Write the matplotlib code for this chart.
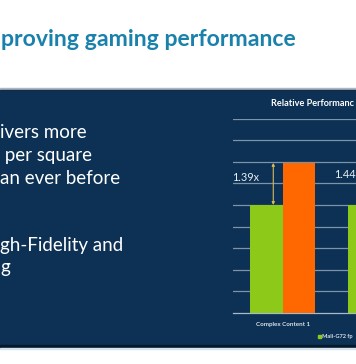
import matplotlib
matplotlib.use("Agg")
import matplotlib.pyplot as plt
from matplotlib.patches import Rectangle

# chart data
categories = ["Complex Content 1", "Complex Content 2"]
g71_rel = [1.0, 1.0]
g72_rel = [1.39, 1.44]
gain_labels = ["1.39x", "1.44"]
yticks = [0.2, 0.4, 0.6, 0.8, 1.0, 1.2, 1.4, 1.6, 1.8]

# visible slide text
title = "proving gaming performance"
body_lines = ["ivers more", " per square", "an ever before", "", "", "gh-Fidelity and", "g"]

navy = '#0c3154'
green = '#8cc919'
orange = '#ff6700'
grid_c = '#7d92ab'

plt.rcParams['font.family'] = ['Lato', 'DejaVu Sans']

fig = plt.figure(figsize=(3.56, 3.64), dpi=100)

# slide background, pixel coordinates
bg = fig.add_axes([0, 0, 1, 1])
bg.set_xlim(0, 356)
bg.set_ylim(364, 0)
bg.axis('off')
bg.add_patch(Rectangle((0, 87.5), 356, 2, color='#a9b6c3'))
bg.add_patch(Rectangle((0, 89.5), 356, 1.5, color='#16293c'))
bg.add_patch(Rectangle((0, 91), 356, 254, color=navy))
bg.add_patch(Rectangle((0, 345), 356, 2.5, color='#06192b'))
bg.add_patch(Rectangle((0, 347.5), 356, 1.5, color='#d6e4f0'))

bg.text(1, 40, title, ha='left', va='center', fontsize=16.6, fontweight='bold',
        color='#1a80ac')

y = 133
for line in body_lines:
    bg.text(0, y, line, ha='left', va='center', fontsize=13.5, color='white')
    y += 22.5

bg.text(271, 103, "Relative Performanc", ha='left', va='center', fontsize=6.6,
        fontweight='bold', color='white')

# legend (cut off by slide edge)
bg.add_patch(Rectangle((317.5, 334.5), 3.5, 3.5, color=green))
bg.text(322, 336.5, "Mali-G72 fp", ha='left', va='center', fontsize=4.1,
        fontweight='bold', color='#d8e0e8')

# bar chart
ax = fig.add_axes([233 / 356, (364 - 313) / 364, (430 - 233) / 356, 194.4 / 364])
ax.set_facecolor('none')
x = list(range(len(categories)))
w = 0.335
ax.bar([i - w / 2 for i in x], g71_rel, width=w, color=green, zorder=3)
ax.bar([i + w / 2 for i in x], g72_rel, width=w, color=orange, zorder=3)
ax.set_xlim(-0.515, 1.515)
ax.set_ylim(0, 1.8)
ax.set_yticks(yticks)
ax.yaxis.grid(True, color=grid_c, linewidth=0.9, zorder=0)
ax.tick_params(left=False, bottom=False, labelleft=False)
for s in ['top', 'right', 'left']:
    ax.spines[s].set_visible(False)
ax.spines['bottom'].set_color('#aab8c8')
ax.spines['bottom'].set_linewidth(0.9)
ax.set_xticks([0])
ax.set_xticklabels([categories[0]], fontsize=4.5, fontweight='bold', color='#d8e0e8')
ax.tick_params(axis='x', pad=3)

for i in x:
    ax.annotate('', xy=(i - 0.1, g72_rel[i]), xytext=(i - 0.1, g71_rel[i]),
                arrowprops=dict(arrowstyle='<|-|>', color='#d9b95a', lw=0.8,
                                mutation_scale=4, shrinkA=0, shrinkB=0), zorder=4)
    ax.text(i - 0.25, (g71_rel[i] + g72_rel[i]) / 2 + 0.06, gain_labels[i],
            ha='right', va='center', fontsize=7.8, color='#e8eef4', zorder=4)

fig.savefig('out.png', dpi=100)
